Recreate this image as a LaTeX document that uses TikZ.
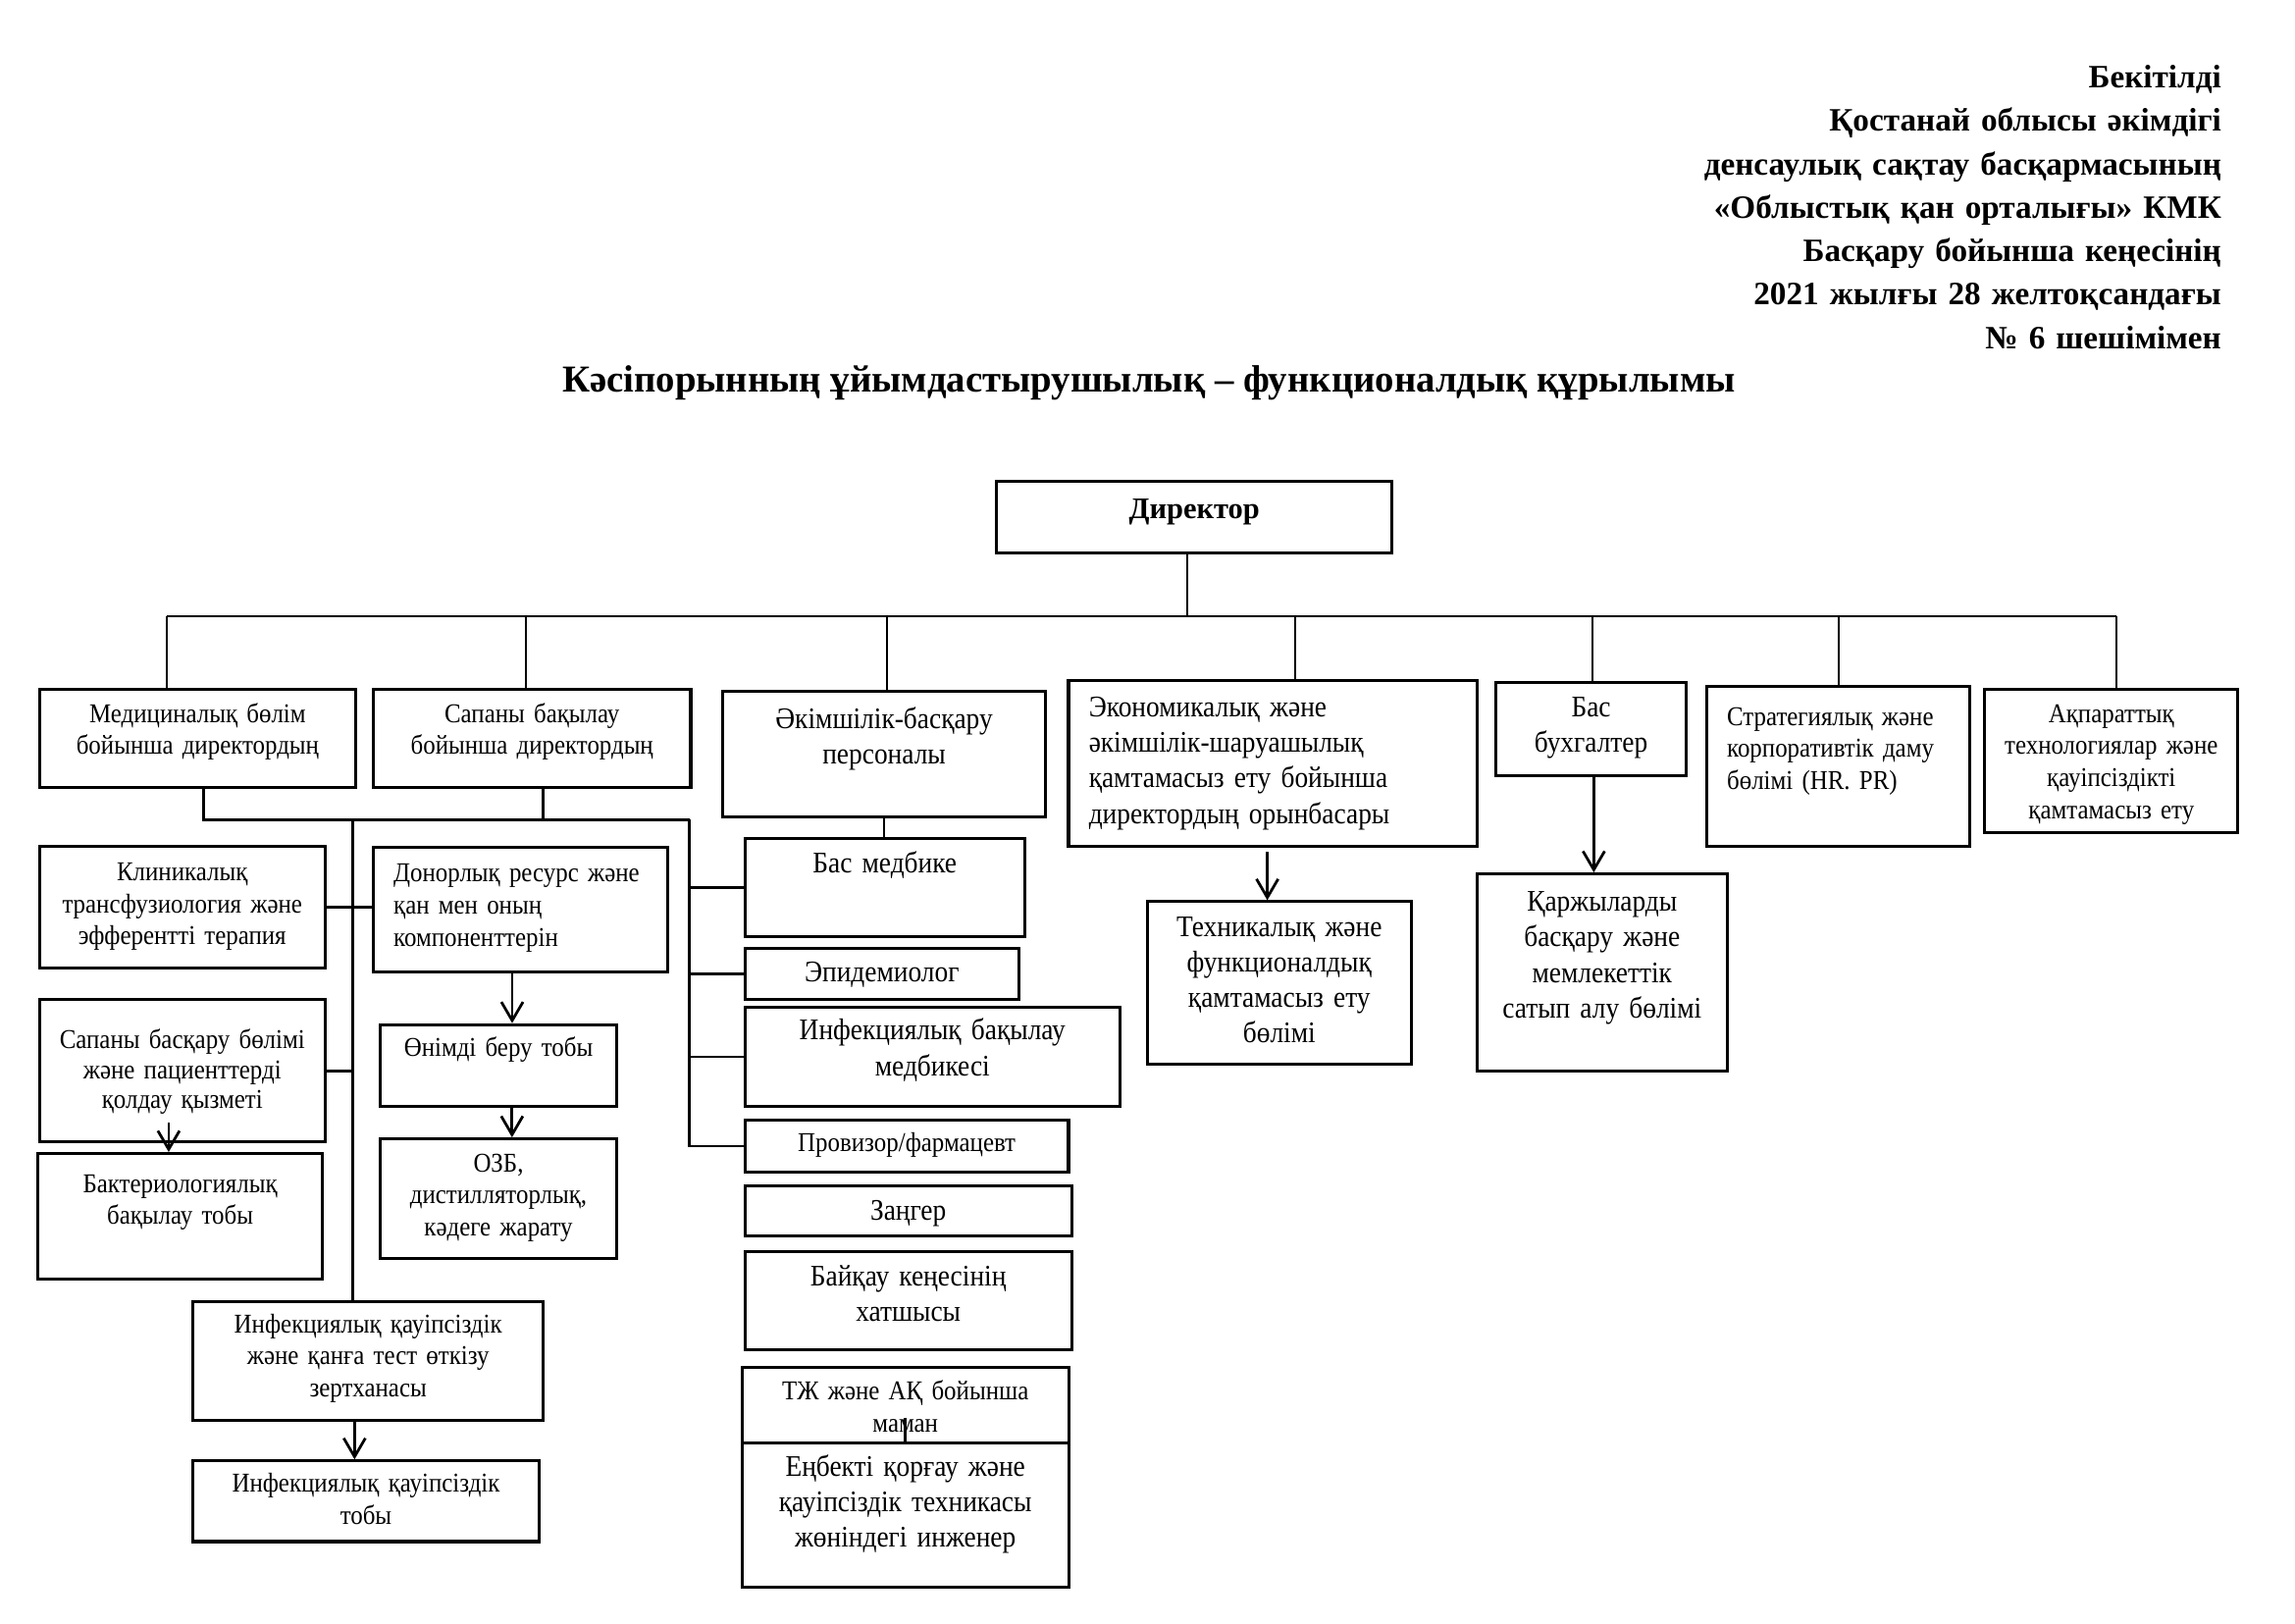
\documentclass[tikz,border=0pt]{standalone}
\usepackage{fontspec}
\setmainfont{Liberation Serif}
\newfontfamily\cellfont[FakeStretch=0.9]{Liberation Serif}
\usetikzlibrary{arrows.meta,positioning}

\begin{document}
\begin{tikzpicture}[
    x=0.189413mm, y=-0.189413mm,
    box/.style={
        rectangle,
        draw=black,
        line width=1.1pt,
        anchor=north west,
        inner xsep=0pt,
        inner ysep=0pt,
        align=center,
        font=\cellfont\fontsize{10}{11.8}\selectfont
    },
    bigbox/.style={
        box,
        font=\cellfont\fontsize{11}{13.1}\selectfont
    },
    header/.style={
        font=\fontsize{12}{16}\selectfont\bfseries,
        inner sep=0pt
    },
    link/.style={
        line width=1pt
    },
    bus/.style={
        line width=0.7pt
    },
    arrow/.style={
        ->,
        line width=1pt,
        >={Straight Barb[length=2.4mm,width=2.8mm]}
    }
]
\useasboundingbox (0,0) rectangle (1568,1109);

% Approval stamp and title
\node[header, anchor=base east, text width=12cm, align=right] (stamp) at (1518,60) {Бекітілді\\ Қостанай облысы әкімдігі\\ денсаулық сақтау басқармасының\\ «Облыстық қан орталығы» КМК\\ Басқару бойынша кеңесінің\\ 2021 жылғы 28 желтоқсандағы\\ № 6 шешімімен};
\node[header, font=\fontsize{14}{16}\selectfont\bfseries, anchor=base] (title) at (785,268) {Кәсіпорынның ұйымдастырушылық – функционалдық құрылымы};

% Director
\node[bigbox, font=\fontsize{11}{13.1}\selectfont\bfseries, text width=145.5pt, text height=13.7pt, text depth=12.7pt] (dir) at (680,328) {Директор};

% First level
\node[box, text width=116.4pt, text height=12.1pt, text depth=24pt] (med) at (26,470) {Медициналық бөлім\\ бойынша директордың};
\node[box, text width=116.9pt, text height=12.1pt, text depth=24pt] (sapb) at (254,470) {Сапаны бақылау\\ бойынша директордың};
\node[bigbox, text width=118.6pt, text height=13.7pt, text depth=32.6pt] (akim) at (493,471) {Әкімшілік-басқару\\ персоналы};
\node[bigbox, align=left, inner xsep=7.5pt, text width=135.4pt, text height=13.2pt, text depth=47.7pt] (ekon) at (729,464) {Экономикалық және\\ әкімшілік-шаруашылық\\ қамтамасыз ету бойынша\\ директордың орынбасары};
\node[bigbox, text width=70.1pt, text height=12.7pt, text depth=21.8pt] (bux) at (1021,465) {Бас\\ бухгалтер};
\node[box, align=left, inner xsep=7.5pt, text width=82pt, text height=14.3pt, text depth=44.5pt] (strat) at (1165,468) {Стратегиялық және\\ корпоративтік даму\\ бөлімі (HR. PR)};
\node[box, text width=93.2pt, text height=12.1pt, text depth=40.7pt] (akpar) at (1355,470) {Ақпараттық\\ технологиялар және\\ қауіпсіздікті\\ қамтамасыз ету};

% Medical and quality branch
\node[box, text width=105.1pt, text height=12.7pt, text depth=32.1pt] (klin) at (26,577) {Клиникалық\\ трансфузиология және\\ эфферентті терапия};
\node[box, font=\cellfont\fontsize{10}{10.9}\selectfont, text width=105.1pt, text height=18.1pt, text depth=34.2pt] (sapbas) at (26,682) {Сапаны басқару бөлімі\\ және пациенттерді\\ қолдау қызметі};
\node[box, text width=104.6pt, text height=14.3pt, text depth=32.1pt] (bakt) at (25,787) {Бактериологиялық\\ бақылау тобы};
\node[box, align=left, inner xsep=7.5pt, text width=93.3pt, text height=12.7pt, text depth=33.1pt] (donor) at (254,578) {Донорлық ресурс және\\ қан мен оның\\ компоненттерін};
\node[box, text width=86.8pt, text height=11.6pt, text depth=18.6pt] (onim) at (259,699) {Өнімді беру тобы};
\node[box, text width=86.8pt, text height=12.1pt, text depth=32.1pt] (ozb) at (259,777) {ОЗБ,\\ дистилляторлық,\\ кәдеге жарату};
\node[box, text width=128.8pt, text height=11.6pt, text depth=32.1pt] (infzert) at (131,888) {Инфекциялық қауіпсіздік\\ және қанға тест өткізу\\ зертханасы};
\node[box, text width=127.2pt, text height=11.6pt, text depth=18.1pt] (inftob) at (131,997) {Инфекциялық қауіпсіздік\\ тобы};

% Administrative staff
\node[bigbox, text width=102.9pt, text height=12.7pt, text depth=23.4pt] (basmed) at (508,572) {Бас медбике};
\node[bigbox, text width=100.8pt, text height=12.1pt, text depth=6.7pt] (epid) at (508,647) {Эпидемиолог};
\node[bigbox, text width=138pt, text height=12.1pt, text depth=24.5pt] (infbak) at (508,687) {Инфекциялық бақылау\\ медбикесі};
\node[box, text width=119.1pt, text height=11.6pt, text depth=7.8pt] (prov) at (508,764) {Провизор/фармацевт};
\node[bigbox, text width=120.2pt, text height=12.7pt, text depth=5.7pt] (zanger) at (508,809) {Заңгер};
\node[bigbox, text width=120.2pt, text height=12.7pt, text depth=23.4pt] (bajkau) at (508,854) {Байқау кеңесінің\\ хатшысы};
\node[box, text width=120.2pt, text height=12.1pt, text depth=15.9pt] (tzh) at (506,933) {ТЖ және АҚ бойынша\\ маман};
\node[bigbox, text width=120.2pt, text height=12.1pt, text depth=40.7pt] (enbek) at (506,985) {Еңбекті қорғау және\\ қауіпсіздік техникасы\\ жөніндегі инженер};

% Economic and accounting branch
\node[bigbox, text width=97pt, text height=12.7pt, text depth=47.2pt] (tehn) at (783,615) {Техникалық және\\ функционалдық\\ қамтамасыз ету\\ бөлімі};
\node[bigbox, text width=92.2pt, text height=13.7pt, text depth=59pt] (karzh) at (1008,596) {Қаржыларды\\ басқару және\\ мемлекеттік\\ сатып алу бөлімі};

% Bus under the director
\coordinate (b0) at (811,421);
\coordinate (b1) at (114,421);
\coordinate (b2) at (359,421);
\coordinate (b3) at (606,421);
\coordinate (b4) at (885,421);
\coordinate (b5) at (1088,421);
\coordinate (b6) at (1256,421);
\coordinate (b7) at (1446,421);

\draw[bus] (b0 |- dir.south) -- (b0);
\draw[bus] (b1) -- (b7);
\draw[bus] (b1) -- (b1 |- med.north);
\draw[bus] (b2) -- (b2 |- sapb.north);
\draw[bus] (b3) -- (b3 |- akim.north);
\draw[bus] (b4) -- (b4 |- ekon.north);
\draw[bus] (b5) -- (b5 |- bux.north);
\draw[bus] (b6) -- (b6 |- strat.north);
\draw[bus] (b7) -- (b7 |- akpar.north);

% Lower links
\coordinate (j1) at (139,560);
\coordinate (j2) at (471,560);
\coordinate (j3) at (371,560);
\coordinate (v1) at (241,560);

\draw[link] (j1 |- med.south) -- (j1) -- (j2);
\draw[link] (j3 |- sapb.south) -- (j3);
\draw[link] (v1) -- (v1 |- infzert.north);
\draw[link] (klin.east) -- (klin.east -| donor.west);
\draw[link] (sapbas.east) -- (sapbas.east -| v1);
\draw[link] (j2) -- (j2 |- prov.west) -- (prov.west);
\draw[link] (j2 |- basmed.west) -- (basmed.west);
\draw[link] (j2 |- epid.west) -- (epid.west);
\draw[link] (j2 |- infbak.west) -- (infbak.west);
\draw[link] (akim.south) -- (akim.south |- basmed.north);
\draw[link] ([yshift=10pt]tzh.south) -- (enbek.north);

% Arrows
\draw[arrow] ([xshift=-3pt]donor.south) -- ([xshift=-3pt]donor.south |- onim.north);
\draw[arrow] ([xshift=5pt]onim.south) -- ([xshift=5pt]onim.south |- ozb.north);
\draw[arrow] ([xshift=-5pt,yshift=7.5pt]sapbas.south) -- ([xshift=-5pt]sapbas.south |- bakt.north);
\draw[arrow] ([xshift=-5pt]infzert.south) -- ([xshift=-5pt]infzert.south |- inftob.north);
\draw[arrow] ([xshift=-2pt,yshift=-1.6pt]ekon.south) -- ([xshift=-2pt]ekon.south |- tehn.north);
\draw[arrow] ([xshift=1pt]bux.south) -- ([xshift=1pt]bux.south |- karzh.north);

\end{tikzpicture}
\end{document}
